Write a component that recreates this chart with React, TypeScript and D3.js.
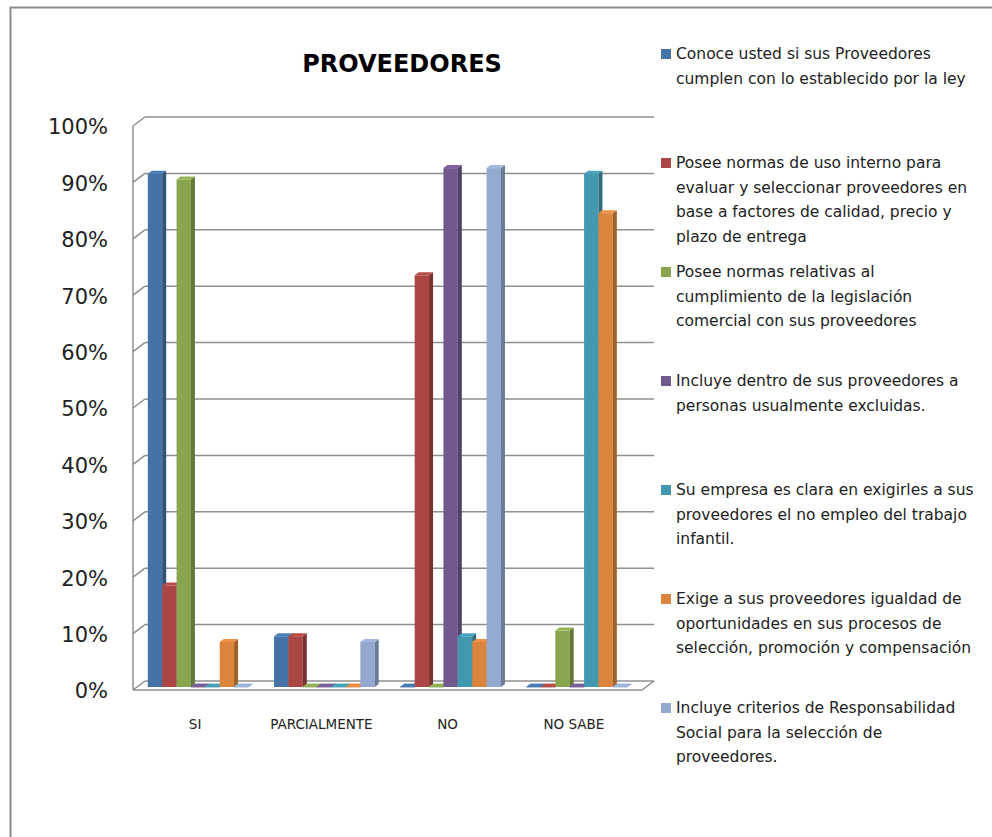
import React from "react";
import * as d3 from "d3";

const categories = ["SI", "PARCIALMENTE", "NO", "NO SABE"];
const seriesNames = [
  "Conoce usted si sus Proveedores cumplen con lo establecido por la ley",
  "Posee normas de uso interno para evaluar y seleccionar proveedores en base a factores de calidad, precio y plazo de entrega",
  "Posee normas relativas al cumplimiento de la legislación comercial con sus proveedores",
  "Incluye dentro de sus proveedores a personas usualmente excluidas.",
  "Su empresa es clara en exigirles a sus proveedores el no empleo del trabajo infantil.",
  "Exige a sus proveedores igualdad de oportunidades en sus procesos de selección, promoción y compensación",
  "Incluye criterios de Responsabilidad Social para la selección de proveedores.",
];
const legendLines = [
  ["Conoce usted si sus Proveedores", "cumplen con lo establecido por la ley"],
  ["Posee normas de uso interno para", "evaluar y seleccionar proveedores en", "base a factores de calidad, precio y", "plazo de entrega"],
  ["Posee normas relativas al", "cumplimiento de la legislación", "comercial con sus proveedores"],
  ["Incluye dentro de sus proveedores a", "personas usualmente excluidas."],
  ["Su empresa es clara en exigirles a sus", "proveedores el no empleo del trabajo", "infantil."],
  ["Exige a sus proveedores igualdad de", "oportunidades en sus procesos de", "selección, promoción y compensación"],
  ["Incluye criterios de Responsabilidad", "Social para la selección de", "proveedores."],
];
// values per series, in order of categories (SI, PARCIALMENTE, NO, NO SABE)
const s1 = [0.91, 0.09, 0.0, 0.0];
const s2 = [0.18, 0.09, 0.73, 0.0];
const s3 = [0.9, 0.0, 0.0, 0.1];
const s4 = [0.0, 0.0, 0.92, 0.0];
const s5 = [0.0, 0.0, 0.09, 0.91];
const s6 = [0.08, 0.0, 0.08, 0.84];
const s7 = [0.0, 0.08, 0.92, 0.0];
const seriesValues = [s1, s2, s3, s4, s5, s6, s7];
const colors = ["#4572A7", "#AA4643", "#89A54E", "#71588F", "#4198AF", "#DB843D", "#93A9CF"];
const yTicks = [0, 0.1, 0.2, 0.3, 0.4, 0.5, 0.6, 0.7, 0.8, 0.9, 1.0];

const FONT = "'DejaVu Sans', 'Liberation Sans', sans-serif";

export default function App() {
  const W = 992, H = 837;
  const x0 = 133, x1 = 638;
  const wallEnd = 642;
  const yFront0 = 690, yFront100 = 126;
  const depthX = 12, depthY = -9;
  const barOffX = 2, barOffY = -3; // bar front face depth position
  const barDX = 4, barDY = -3; // bar depth

  const x = d3.scaleBand<string>().domain(categories).range([x0, x1]).padding(0);
  const xs = d3
    .scaleBand<number>()
    .domain(d3.range(seriesNames.length))
    .range([0, x.bandwidth()])
    .paddingInner(0)
    .paddingOuter(0.89);
  const y = d3.scaleLinear().domain([0, 1]).range([yFront0, yFront100]);
  const fmt = d3.format(".0%");
  const bw = xs.bandwidth();

  const bars: React.ReactNode[] = [];
  categories.forEach((c, ci) => {
    seriesValues.forEach((vals, si) => {
      const v = vals[ci];
      const col = colors[si];
      const xl = (x(c) as number) + (xs(si) as number) + barOffX;
      const yb = y(0) + barOffY;
      const yt = y(v) + barOffY;
      const side = d3.color(col)!.darker(0.9).formatHex();
      const top = d3.color(col)!.brighter(0.25).formatHex();
      const topPts = [
        [xl, yt],
        [xl + bw, yt],
        [xl + bw + barDX, yt + barDY],
        [xl + barDX, yt + barDY],
      ];
      const sidePts = [
        [xl + bw, yt],
        [xl + bw + barDX, yt + barDY],
        [xl + bw + barDX, yb + barDY],
        [xl + bw, yb],
      ];
      bars.push(
        <g key={`b-${ci}-${si}`}>
          {v > 0 && <rect x={xl} y={yt} width={bw} height={yb - yt} fill={col} />}
          {v > 0 && <polygon points={sidePts.map((p) => p.join(",")).join(" ")} fill={side} />}
          <polygon points={topPts.map((p) => p.join(",")).join(" ")} fill={top} stroke={v > 0 ? "none" : col} strokeWidth={v > 0 ? 0 : 0.8} />
        </g>
      );
    });
  });

  const gridColor = "#8f8f8f";

  return (
    <svg
      width={W}
      height={H}
      style={{ position: "absolute", left: 0, top: 0, background: "#fff" }}
      fontFamily={FONT}
    >
      <rect x={0} y={0} width={W} height={H} fill="#ffffff" />
      {/* outer border */}
      <path d={`M10.5,${H + 5} L10.5,7.5 L${W + 5},7.5`} fill="none" stroke="#8c8c8c" strokeWidth={2} />

      {/* title */}
      <text x={402} y={72} textAnchor="middle" fontSize={24} fontWeight="bold" fill="#000">
        PROVEEDORES
      </text>

      {/* back wall gridlines and side wall lines */}
      {yTicks.map((t) => (
        <g key={`g-${t}`}>
          <line x1={x0 + depthX} x2={wallEnd + depthX} y1={y(t) + depthY} y2={y(t) + depthY} stroke={gridColor} strokeWidth={1.5} />
          <line x1={x0} x2={x0 + depthX} y1={y(t)} y2={y(t) + depthY} stroke={gridColor} strokeWidth={1.5} />
        </g>
      ))}
      {/* floor */}
      <line x1={x0} x2={wallEnd} y1={y(0)} y2={y(0)} stroke={gridColor} strokeWidth={1.5} />
      <line x1={wallEnd} x2={wallEnd + depthX} y1={y(0)} y2={y(0) + depthY} stroke={gridColor} strokeWidth={1.5} />
      {/* vertical axis */}
      <line x1={x0} x2={x0} y1={y(1)} y2={y(0)} stroke={gridColor} strokeWidth={1.5} />

      {bars}

      {/* y axis labels */}
      {yTicks.map((t) => (
        <text key={`yl-${t}`} x={108} y={y(t) + 1} dy="0.35em" textAnchor="end" fontSize={21} fill="#222">
          {fmt(t)}
        </text>
      ))}

      {/* category labels */}
      {categories.map((c) => (
        <text key={`c-${c}`} x={(x(c) as number) + x.bandwidth() / 2 - 1} y={729} textAnchor="middle" fontSize={13.5} fill="#222">
          {c}
        </text>
      ))}

      {/* legend */}
      {legendLines.map((lines, i) => {
        const cy = 54 + i * 109;
        return (
          <g key={`lg-${i}`}>
            <rect x={661} y={cy - 5} width={10} height={10} fill={colors[i]} />
            {lines.map((ln, k) => (
              <text key={k} x={676} y={cy + 5 + k * 24.5} fontSize={15.5} fill="#222">
                {ln}
              </text>
            ))}
          </g>
        );
      })}
    </svg>
  );
}
